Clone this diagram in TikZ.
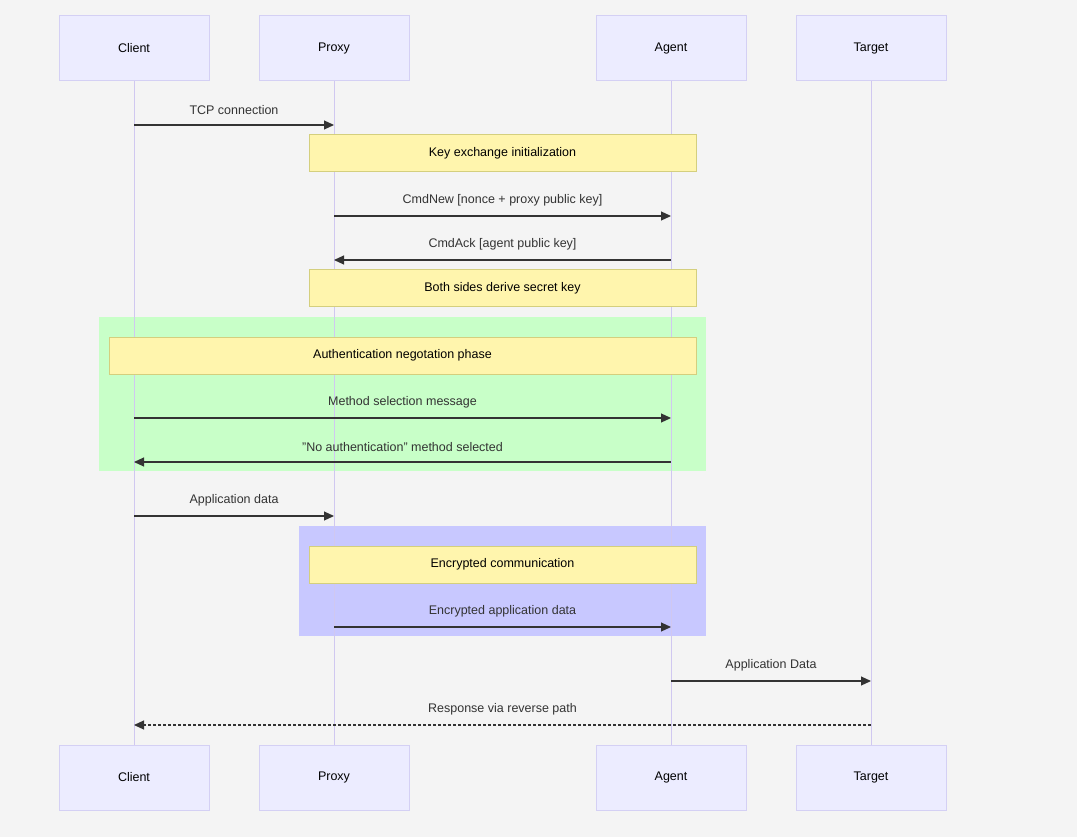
\documentclass[tikz,border=0pt]{standalone}
\usepackage{fontspec}
\setmainfont{Liberation Sans}
\usetikzlibrary{arrows.meta}
\definecolor{bg}{HTML}{F4F4F4}
\definecolor{actfill}{HTML}{ECECFF}
\definecolor{actline}{HTML}{D4D0F4}
\definecolor{life}{HTML}{D0C8F0}
\definecolor{notefill}{HTML}{FFF5AD}
\definecolor{noteline}{HTML}{D4CF7E}
\definecolor{txt}{HTML}{333333}
\definecolor{grn}{HTML}{C8FFC8}
\definecolor{blu}{HTML}{C8C8FF}
\begin{document}
\begin{tikzpicture}[x=1pt,y=-1pt,
 actor/.style={draw=actline,fill=actfill,line width=1pt,minimum width=150pt,minimum height=65pt,inner sep=0pt,font=\fontsize{12.5}{15}\selectfont},
 note/.style={draw=noteline,fill=notefill,line width=1pt,minimum height=37pt,inner sep=0pt,font=\fontsize{12.5}{15}\selectfont},
 msg/.style={draw=txt,line width=1.1pt,-{Triangle[length=10pt,width=9pt]}},
 lab/.style={text=txt,font=\fontsize{12.5}{15}\selectfont,anchor=base}]
\useasboundingbox (0,0) rectangle (1077,837);
\fill[bg] (0,0) rectangle (1077,837);
\fill[grn] (99,317) rectangle (706,471);
\fill[blu] (299,526) rectangle (706,636);
\foreach \n/\x/\t in {c/134/Client,p/334/Proxy,a/671/Agent,t/871/Target}{
 \node[actor] (\n top) at (\x,48.5) {\t};
 \node[actor] (\n bot) at (\x,777.5) {\t};
 \draw[life,line width=1pt] (\n top) -- (\n bot);
}
\node[note,minimum width=387pt] (n1) at (502.5,153.5) {Key exchange initialization};
\node[note,minimum width=387pt] (n2) at (502.5,288.5) {Both sides derive secret key};
\node[note,minimum width=587pt] (n3) at (402.5,355.5) {Authentication negotation phase};
\node[note,minimum width=387pt] (n4) at (502.5,564.5) {Encrypted communication};
\foreach \y in {125,216,260,418,462,516,627,681,725}{
 \coordinate (c\y) at (134,\y); \coordinate (p\y) at (334,\y);
 \coordinate (a\y) at (671,\y); \coordinate (t\y) at (871,\y);}
\draw[msg] (c125) -- (p125) node[lab,midway,above=6pt] {TCP connection};
\draw[msg] (p216) -- (a216) node[lab,midway,above=6pt] {CmdNew [nonce + proxy public key]};
\draw[msg] (a260) -- (p260) node[lab,midway,above=6pt] {CmdAck [agent public key]};
\draw[msg] (c418) -- (a418) node[lab,midway,above=6pt] {Method selection message};
\draw[msg] (a462) -- (c462) node[lab,midway,above=6pt] {"No authentication" method selected};
\draw[msg] (c516) -- (p516) node[lab,midway,above=6pt] {Application data};
\draw[msg] (p627) -- (a627) node[lab,midway,above=6pt] {Encrypted application data};
\draw[msg] (a681) -- (t681) node[lab,midway,above=6pt] {Application Data};
\draw[msg,dash pattern=on 3pt off 2pt] (t725) -- (c725) node[lab,midway,above=6pt] {Response via reverse path};
\end{tikzpicture}
\end{document}
